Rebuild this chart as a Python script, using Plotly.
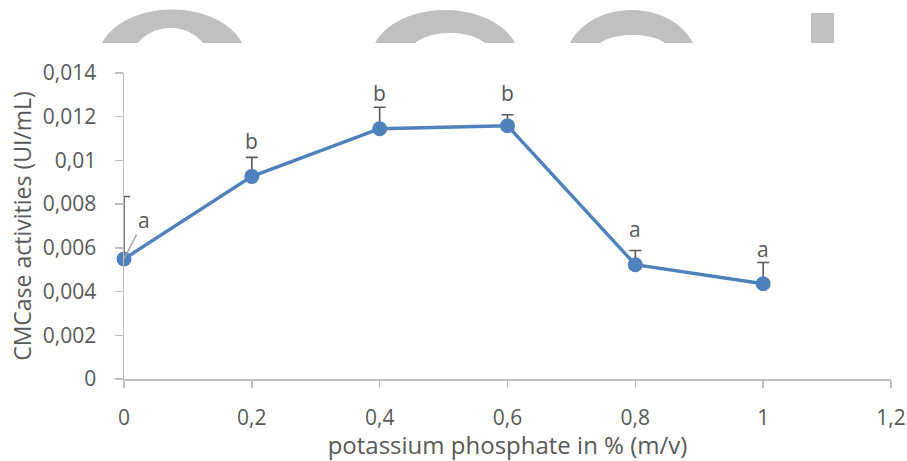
import numpy as np
import plotly.graph_objects as go

# ---------------- data ----------------
x_vals = [0, 0.2, 0.4, 0.6, 0.8, 1.0]
y_vals = [0.00549, 0.00927, 0.01145, 0.01159, 0.00523, 0.00436]
err_up = [0.00286, 0.00087, 0.00098, 0.00050, 0.00065, 0.00097]
letters = ["a", "b", "b", "b", "a", "a"]

x_tick_vals = [0, 0.2, 0.4, 0.6, 0.8, 1.0, 1.2]
x_tick_text = ["0", "0,2", "0,4", "0,6", "0,8", "1", "1,2"]
y_tick_vals = [0, 0.002, 0.004, 0.006, 0.008, 0.010, 0.012, 0.014]
y_tick_text = ["0", "0,002", "0,004", "0,006", "0,008", "0,01", "0,012", "0,014"]

x_title = "potassium phosphate in % (m/v)"
y_title = "CMCase activities (UI/mL)"

# ---------------- style ----------------
FONT = "Open Sans"
TXT = "#595959"
LINE = "#4F81BD"
AXIS = "#BFBFBF"
W, H = 907, 461
ML, MR, MT, MB = 124, 16, 73, 82
label_shift = [0, 0, -2, 6, 5, -2]  # pixel shifts of letters above error caps

fig = go.Figure()
fig.add_trace(go.Scatter(
    x=x_vals, y=y_vals, mode="lines+markers",
    line=dict(color=LINE, width=3.4),
    marker=dict(color=LINE, size=15),
    error_y=dict(type="data", symmetric=False, array=err_up,
                 arrayminus=[0] * len(err_up), color=TXT,
                 thickness=1.6, width=6),
    cliponaxis=False, showlegend=False, hoverinfo="skip",
))

annotations = []
for i, (xv, yv, e, lt) in enumerate(zip(x_vals, y_vals, err_up, letters)):
    if i == 0:
        annotations.append(dict(
            x=xv, y=yv, text=lt, showarrow=True, arrowhead=0,
            arrowwidth=1.5, arrowcolor="#A6A6A6", ax=20, ay=-39,
            standoff=0, font=dict(family=FONT, size=21, color=TXT)))
    else:
        annotations.append(dict(
            x=xv, y=yv + e, text=lt, showarrow=False, yanchor="bottom",
            yshift=label_shift[i], font=dict(family=FONT, size=21, color=TXT)))

# ---------------- decorative watermark arcs at top ----------------
pw, ph = W - ML - MR, H - MT - MB


def to_paper(px, py):
    return (px - ML) / pw, (H - MB - py) / ph


def arc_path(cx, top, a, b, cut):
    cy = top + b
    t = np.linspace(0, np.pi, 181)
    xs = cx - a * np.cos(t)
    ys = cy - b * np.sin(t)
    keep = ys <= cut
    xs, ys = xs[keep], ys[keep]
    dyc = (cut - cy) / b
    dxc = a * np.sqrt(max(0.0, 1 - dyc ** 2))
    pts = [(cx - dxc, cut)] + list(zip(xs, ys)) + [(cx + dxc, cut)]
    s = ""
    for k, (px, py) in enumerate(pts):
        u, v = to_paper(px, py)
        s += ("M" if k == 0 else "L") + f"{u:.5f},{v:.5f} "
    return s + "Z"


shapes = []
cut = 43
gray = "#C0C0C0"
for (cx, top, a, b), (icx, itop, ia, ib) in [
    ((172, 9.5, 74, 49.6), (170.5, 28, 40, 36)),
    ((445, 10, 74, 49.0), (450, 33, 40, 19.4)),
    ((631.5, 10, 66, 51.8), (632.5, 35, 38, 16.6)),
]:
    shapes.append(dict(type="path", xref="paper", yref="paper",
                       path=arc_path(cx, top, a, b, cut),
                       fillcolor=gray, line=dict(width=0), layer="below"))
    shapes.append(dict(type="path", xref="paper", yref="paper",
                       path=arc_path(icx, itop, ia, ib, cut),
                       fillcolor="white", line=dict(width=0), layer="below"))
u0, v0 = to_paper(811, 43)
u1, v1 = to_paper(834, 13)
shapes.append(dict(type="rect", xref="paper", yref="paper", x0=u0, x1=u1,
                   y0=v0, y1=v1, fillcolor=gray, line=dict(width=0),
                   layer="below"))

fig.update_layout(
    width=W, height=H,
    margin=dict(l=ML, r=MR, t=MT, b=MB, autoexpand=False),
    paper_bgcolor="white", plot_bgcolor="white",
    font=dict(family=FONT, color=TXT, size=21),
    annotations=annotations, shapes=shapes,
    hovermode=False,
    xaxis=dict(range=[0, 1.2], tickvals=x_tick_vals, ticktext=x_tick_text,
               automargin=False,
               showgrid=False, zeroline=False, showline=True,
               linecolor=AXIS, linewidth=1.5, ticks="outside",
               tickcolor=AXIS, ticklen=7, tickwidth=1.5,
               ticklabelstandoff=12,
               tickfont=dict(family=FONT, size=21, color=TXT),
               title=dict(text=x_title, standoff=2,
                          font=dict(family=FONT, size=24, color=TXT))),
    yaxis=dict(range=[0, 0.014], tickvals=y_tick_vals, ticktext=y_tick_text,
               automargin=False,
               showgrid=False, zeroline=False, showline=True,
               linecolor=AXIS, linewidth=1.5, ticks="outside",
               tickcolor=AXIS, ticklen=8, tickwidth=1.5,
               ticklabelstandoff=14,
               tickfont=dict(family=FONT, size=21, color=TXT),
               title=dict(text=y_title, standoff=5,
                          font=dict(family=FONT, size=23, color=TXT))),
)

fig.write_html("out.html",
               config={"displayModeBar": False, "staticPlot": True},
               post_script="document.body.style.margin='0';"
                           "document.body.style.overflow='hidden';")
